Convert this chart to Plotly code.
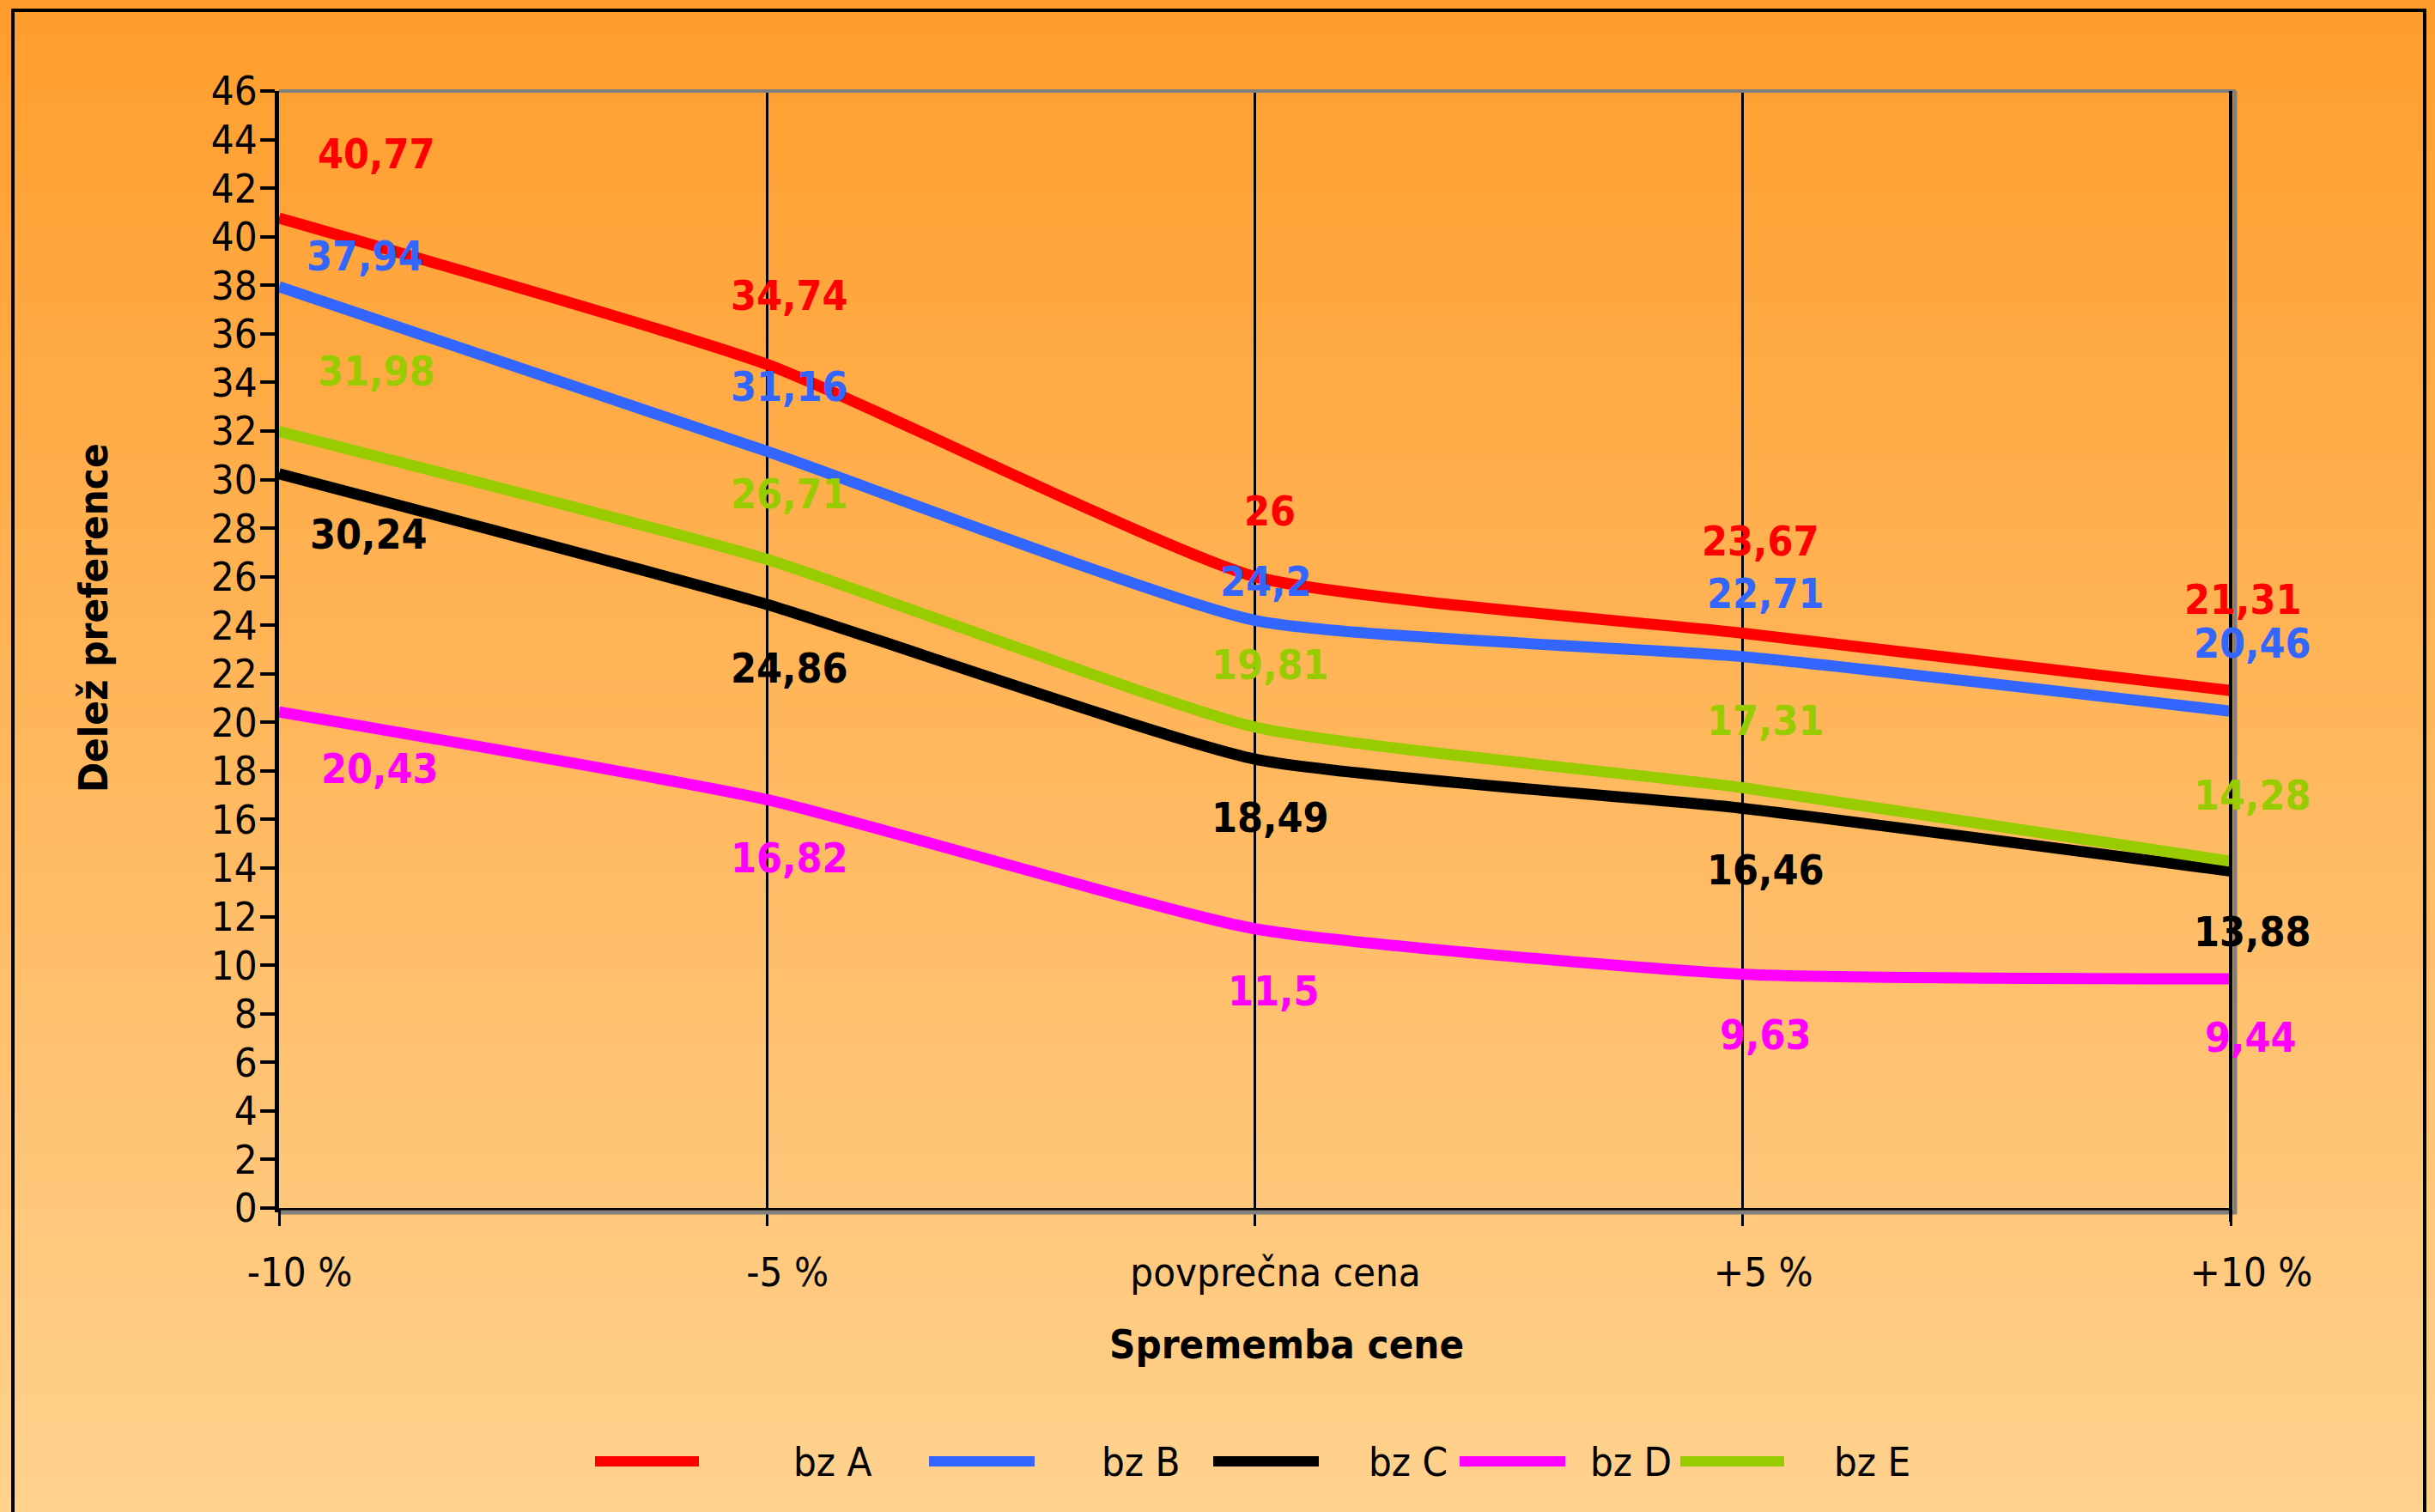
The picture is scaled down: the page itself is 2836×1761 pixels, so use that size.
import plotly.graph_objects as go

# ---- data -------------------------------------------------------------
categories = ["-10 %", "-5 %", "povprečna cena", "+5 %", "+10 %"]
series_names = ["bz A", "bz B", "bz C", "bz D", "bz E"]
bz_a = [40.77, 34.74, 26, 23.67, 21.31]
bz_b = [37.94, 31.16, 24.2, 22.71, 20.46]
bz_c = [30.24, 24.86, 18.49, 16.46, 13.88]
bz_d = [20.43, 16.82, 11.5, 9.63, 9.44]
bz_e = [31.98, 26.71, 19.81, 17.31, 14.28]
y_ticks = list(range(0, 47, 2))

# ---- styling ----------------------------------------------------------
W, H = 2836, 1761
PX0, PX1, PY0, PY1 = 325, 2598, 106, 1407   # plot area in pixels
FONT = "DejaVu Sans Condensed, DejaVu Sans"
FS = 47
colors = {"bz A": "#FF0000", "bz B": "#3366FF", "bz C": "#000000",
          "bz D": "#FF00FF", "bz E": "#99CC00"}
values = {"bz A": bz_a, "bz B": bz_b, "bz C": bz_c, "bz D": bz_d, "bz E": bz_e}
draw_order = ["bz A", "bz B", "bz C", "bz D", "bz E"]

# value label offsets (pixels right, pixels down) per series and category
label_offsets = {
    "bz A": [(113, -75), (26, -80), (17, -77), (21, -108), (14, -106)],
    "bz B": [(100, -36), (26, -76), (13, -46), (27, -74), (25, -79)],
    "bz C": [(104, 70), (26, 74), (18, 68), (27, 72), (25, 71)],
    "bz D": [(117, 66), (26, 68), (22, 72), (27, 70), (23, 68)],
    "bz E": [(113, -71), (26, -77), (18, -73), (27, -78), (25, -77)],
}

# legend layout: (line start px, line end px, text left px)
legend_pos = {
    "bz A": (693, 814, 922),
    "bz B": (1082, 1205, 1281),
    "bz C": (1413, 1536, 1592),
    "bz D": (1700, 1823, 1850),
    "bz E": (1957, 2078, 2134),
}
LEGEND_Y = 1702


def px_x(px):
    return (px - PX0) / (PX1 - PX0)


def px_y(py):
    return (PY1 - py) / (PY1 - PY0)


def fmt(v):
    return ("%g" % v).replace(".", ",")


fig = go.Figure()
for name in draw_order:
    fig.add_trace(go.Scatter(
        x=categories, y=values[name], name=name, mode="lines",
        line=dict(color=colors[name], width=13, shape="spline", smoothing=0.5),
        showlegend=False, hoverinfo="skip",
    ))

shapes = []
# vertical background gradient (orange to light apricot)
top_rgb = (255, 157, 44)
bot_rgb = (255, 210, 142)
N = 120
for i in range(N):
    t = (i + 0.5) / N
    r = round(top_rgb[0] + (bot_rgb[0] - top_rgb[0]) * t)
    g = round(top_rgb[1] + (bot_rgb[1] - top_rgb[1]) * t)
    b = round(top_rgb[2] + (bot_rgb[2] - top_rgb[2]) * t)
    y0 = H * i / N
    y1 = H * (i + 1) / N + 1
    shapes.append(dict(type="rect", xref="paper", yref="paper", layer="below",
                       x0=px_x(-5), x1=px_x(W + 5), y0=px_y(y1), y1=px_y(y0),
                       fillcolor=f"rgb({r},{g},{b})", line=dict(width=0)))
# outer frame
shapes.append(dict(type="rect", xref="paper", yref="paper", layer="below",
                   x0=px_x(15), x1=px_x(2824), y0=px_y(1790), y1=px_y(12),
                   line=dict(color="black", width=4)))
# plot area border and shadow
shapes.append(dict(type="line", xref="paper", yref="paper", layer="above",
                   x0=px_x(PX0), x1=px_x(PX1 + 6), y0=px_y(PY0), y1=px_y(PY0),
                   line=dict(color="#808080", width=4)))
shapes.append(dict(type="line", xref="paper", yref="paper", layer="above",
                   x0=px_x(PX1 + 5), x1=px_x(PX1 + 5), y0=px_y(PY0), y1=px_y(PY1 + 7),
                   line=dict(color="#808080", width=5)))
shapes.append(dict(type="line", xref="paper", yref="paper", layer="above",
                   x0=px_x(PX0 + 2), x1=px_x(PX1 + 7), y0=px_y(PY1 + 5), y1=px_y(PY1 + 5),
                   line=dict(color="#808080", width=5)))
shapes.append(dict(type="line", xref="paper", yref="paper", layer="above",
                   x0=px_x(PX1), x1=px_x(PX1), y0=px_y(PY0), y1=px_y(PY1 + 16),
                   line=dict(color="black", width=4)))

annotations = []
# value labels
for name in draw_order:
    for i, cat in enumerate(categories):
        dx, dy = label_offsets[name][i]
        annotations.append(dict(
            x=cat, y=values[name][i], xref="x", yref="y",
            xanchor="center", yanchor="middle",
            text=fmt(values[name][i]), showarrow=False,
            xshift=dx, yshift=-dy,
            font=dict(family=FONT, size=48, color=colors[name], weight="bold"),
        ))

# legend
for name in series_names:
    x0, x1, xt = legend_pos[name]
    shapes.append(dict(type="line", xref="paper", yref="paper", layer="above",
                       x0=px_x(x0), x1=px_x(x1), y0=px_y(LEGEND_Y), y1=px_y(LEGEND_Y),
                       line=dict(color=colors[name], width=12)))
    annotations.append(dict(x=px_x(xt), y=px_y(LEGEND_Y), xref="paper", yref="paper",
                            xanchor="left", yanchor="middle", text=name, showarrow=False,
                            font=dict(family=FONT, size=FS, color="black")))

# axis titles
annotations.append(dict(x=px_x(1498), y=px_y(1566), xref="paper", yref="paper",
                        xanchor="center", yanchor="middle",
                        text="Sprememba cene", showarrow=False,
                        font=dict(family=FONT, size=FS, color="black", weight="bold")))
annotations.append(dict(x=px_x(108), y=px_y(720), xref="paper", yref="paper",
                        xanchor="center", yanchor="middle",
                        text="Delež preference", showarrow=False, textangle=-90,
                        font=dict(family=FONT, size=FS, color="black", weight="bold")))

fig.update_layout(
    width=W, height=H,
    margin=dict(l=PX0, r=W - PX1, t=PY0, b=H - PY1, pad=0),
    paper_bgcolor="#FFB865",
    plot_bgcolor="rgba(0,0,0,0)",
    font=dict(family=FONT, size=FS, color="black"),
    shapes=shapes,
    annotations=annotations,
    showlegend=False,
    xaxis=dict(
        type="category", range=[0, len(categories) - 1],
        showgrid=True, gridcolor="black", gridwidth=3,
        showline=True, linecolor="black", linewidth=5,
        ticks="outside", ticklen=16, tickwidth=3, tickcolor="black",
        tickfont=dict(family=FONT, size=FS, color="black"),
        ticklabelstandoff=14, ticklabelshift=24,
        zeroline=False, fixedrange=True,
    ),
    yaxis=dict(
        range=[0, 46], tickvals=y_ticks, ticktext=[str(v) for v in y_ticks],
        showgrid=False, zeroline=False,
        showline=True, linecolor="black", linewidth=5,
        ticks="outside", ticklen=17, tickwidth=4, tickcolor="black",
        tickfont=dict(family=FONT, size=FS, color="black"),
        ticklabelstandoff=-6,
        fixedrange=True,
    ),
)

fig.write_html("out.html")
